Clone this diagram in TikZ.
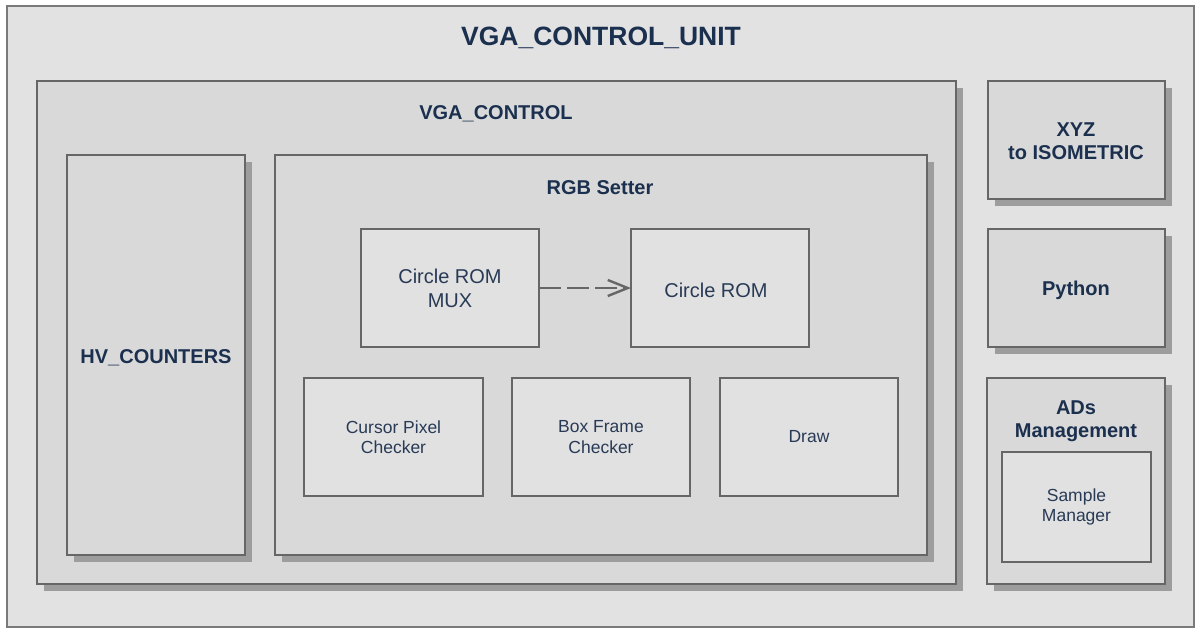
\documentclass[tikz,border=0pt]{standalone}
\usepackage{fontspec}
\setmainfont{Liberation Sans}
\usetikzlibrary{shadows,arrows.meta}
\definecolor{bordergray}{HTML}{666666}
\definecolor{outergray}{HTML}{7A7A7A}
\definecolor{bgouter}{HTML}{E2E2E2}
\definecolor{bgmid}{HTML}{D9D9D9}
\definecolor{bginner}{HTML}{E1E1E1}
\definecolor{shadowgray}{HTML}{9D9D9D}
\definecolor{navy}{HTML}{1B2F4E}
\definecolor{navyreg}{HTML}{283A55}
\tikzset{
  box/.style={draw=bordergray, line width=2.9pt, rectangle, inner sep=0pt, outer sep=0pt},
  midbox/.style={box, fill=bgmid, drop shadow={shadow xshift=7pt, shadow yshift=-7pt, fill=shadowgray, opacity=1}},
  innerbox/.style={box, fill=bginner, text=navyreg, align=center},
  bigtitle/.style={text=navy, font=\bfseries\fontsize{26.5}{31}\selectfont},
  title/.style={text=navy, font=\bfseries\fontsize{20}{23}\selectfont, align=center},
  regtext/.style={font=\fontsize{20}{24}\selectfont},
  smalltext/.style={font=\fontsize{17.5}{20.5}\selectfont},
}
\begin{document}
\begin{tikzpicture}[x=1pt,y=-1pt]
\useasboundingbox (0,0) rectangle (1197,629);
% outer
\node[draw=outergray, line width=2pt, fill=bgouter, minimum width=1187pt, minimum height=621pt, inner sep=0pt] (unit) at (600.5,316.5) {};
\node[bigtitle] (unittitle) at (601,38) {VGA\_CONTROL\_UNIT};
% VGA_CONTROL
\node[midbox, minimum width=919pt, minimum height=503pt] (ctrl) at (496.5,332.5) {};
\node[title] (ctrltitle) at (496,114) {VGA\_CONTROL};
% HV counters
\node[midbox, minimum width=178pt, minimum height=400pt] (hv) at (156,355) {};
\node[title] (hvtitle) at (156,358) {HV\_COUNTERS};
% RGB setter
\node[midbox, minimum width=652pt, minimum height=400pt] (rgb) at (601,355) {};
\node[title] (rgbtitle) at (600,188) {RGB Setter};
% inner boxes
\node[innerbox, regtext, minimum width=178pt, minimum height=118pt] (mux) at (450,288) {Circle ROM\\MUX};
\node[innerbox, regtext, minimum width=178pt, minimum height=118pt] (rom) at (720,288) {};
\node[regtext, text=navyreg] (romtext) at (716,290) {Circle ROM};
\node[innerbox, smalltext, minimum width=179pt, minimum height=118pt] (cursor) at (393.5,437) {Cursor Pixel\\Checker};
\node[innerbox, smalltext, minimum width=178pt, minimum height=118pt] (frame) at (601,437) {Box Frame\\Checker};
\node[innerbox, smalltext, minimum width=178pt, minimum height=118pt] (drawbox) at (809,437) {Draw};
\draw[draw=bordergray, line width=2.6pt, dash pattern=on 22pt off 6pt, -{Straight Barb[length=20pt,width=16pt,line width=2.4pt]}] (mux.east) -- (rom.west);
% right column
\node[midbox, minimum width=177pt, minimum height=118pt] (xyz) at (1076.5,140) {};
\node[title] (xyztitle) at (1076,141) {XYZ\\to ISOMETRIC};
\node[midbox, minimum width=177pt, minimum height=118pt] (py) at (1076.5,288) {};
\node[title] (pytitle) at (1076,290) {Python};
\node[midbox, minimum width=178pt, minimum height=206pt] (ads) at (1076,481) {};
\node[title] (adstitle) at (1076,421) {ADs\\Management};
\node[innerbox, smalltext, minimum width=149pt, minimum height=110pt] (sample) at (1076.5,507) {Sample\\Manager};
\end{tikzpicture}
\end{document}
